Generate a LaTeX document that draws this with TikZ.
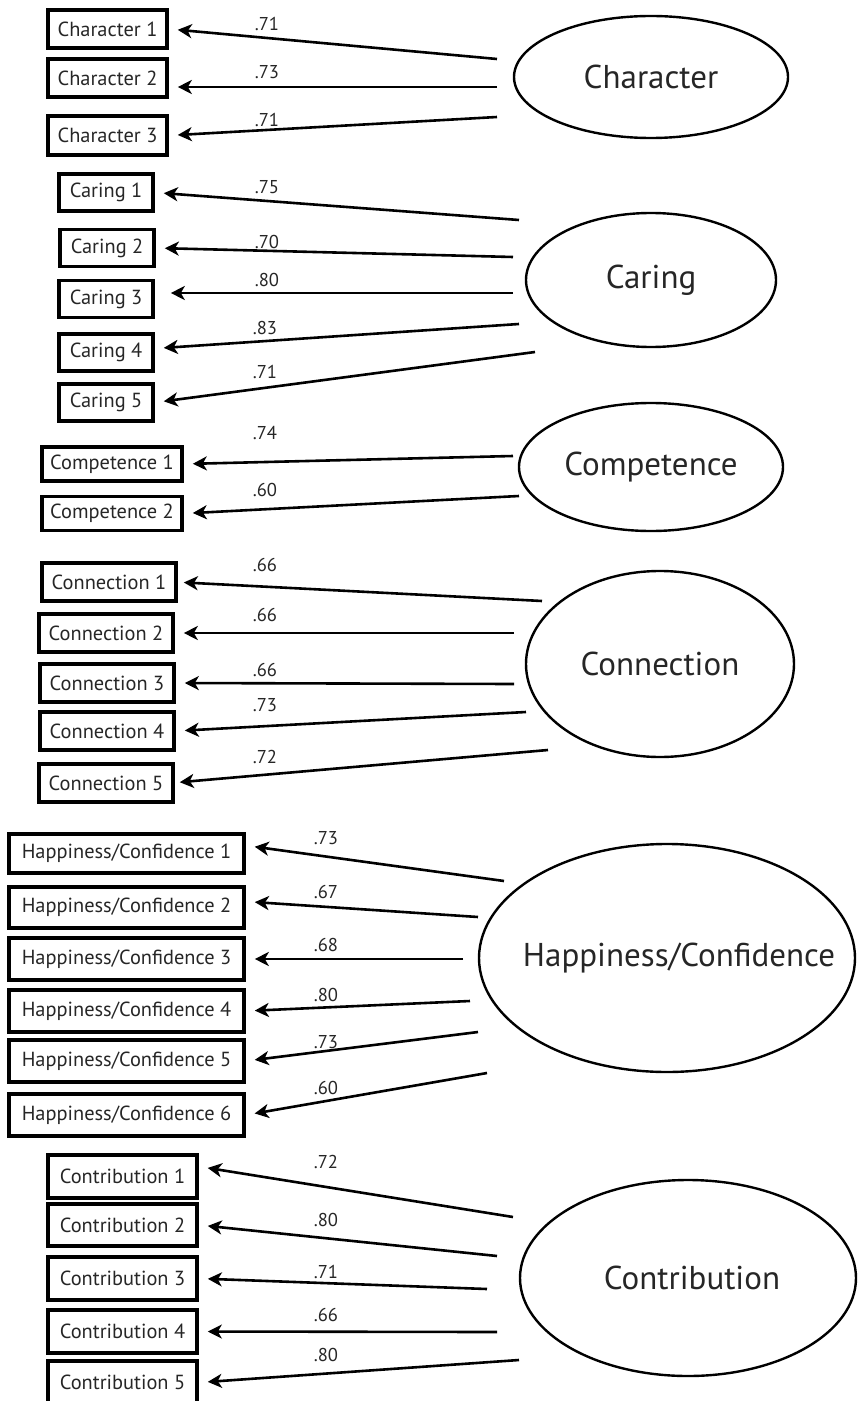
\documentclass[tikz,border=0pt]{standalone}
\usepackage{fontspec}
\setmainfont{PT Sans}
\usetikzlibrary{shapes.geometric,arrows.meta}

\begin{document}
\begin{tikzpicture}[x=0.5pt,y=-0.5pt,>={Stealth[length=7pt,width=7pt,inset=2pt]},
	item/.style={draw,rectangle,line width=1.8pt,inner sep=1pt,text=black!85,font=\fontsize{10.2}{12}\selectfont},
	latent/.style={draw,ellipse,line width=1.2pt,inner sep=0pt},
	title/.style={text=black!85,font=\fontsize{16.5}{20}\selectfont},
	coef/.style={inner sep=0pt,text=black!85,font=\fontsize{9.3}{11}\selectfont},
	link/.style={->,line width=1.3pt,shorten >=4.5pt}]
			\useasboundingbox (0,0) rectangle (857,1401);
			
			%% Latent factors
			\draw (651,77) node [latent,minimum width=137pt,minimum height=61pt,label={[title]center:Character}] (char) {};
			\draw (651,280) node [latent,minimum width=125pt,minimum height=67pt,label={[title]center:Caring}] (car) {};
			\draw (651,467) node [latent,minimum width=132pt,minimum height=64pt,label={[title]center:Competence}] (comp) {};
			\draw (660,664) node [latent,minimum width=134pt,minimum height=93pt,label={[title]center:Connection}] (conn) {};
			\draw (667,958) node [latent,minimum width=188pt,minimum height=114pt,label={[title,xshift=6pt]center:Happiness/Confidence}] (hc) {};
			\draw (688,1278) node [latent,minimum width=168pt,minimum height=98pt,label={[title,xshift=2pt]center:Contribution}] (cont) {};
			
			%% Indicators
			\draw (107.5,29) node [item,minimum width=59.5pt,minimum height=19pt] (char1) {Character 1};
			\draw (107.5,78) node [item,minimum width=59.5pt,minimum height=19pt] (char2) {Character 2};
			\draw (107.5,135.5) node [item,minimum width=59.5pt,minimum height=19.5pt] (char3) {Character 3};
			
			\draw (106,192.5) node [item,minimum width=47pt,minimum height=18.5pt] (car1) {Caring 1};
			\draw (107,248) node [item,minimum width=47pt,minimum height=18.5pt] (car2) {Caring 2};
			\draw (106,299) node [item,minimum width=47pt,minimum height=18.5pt] (car3) {Caring 3};
			\draw (106,352.5) node [item,minimum width=47pt,minimum height=18.5pt] (car4) {Caring 4};
			\draw (106,402.5) node [item,minimum width=47pt,minimum height=18.5pt] (car5) {Caring 5};
			
			\draw (112,464) node [item,minimum width=70pt,minimum height=17pt] (comp1) {Competence 1};
			\draw (112,513.5) node [item,minimum width=70pt,minimum height=17pt] (comp2) {Competence 2};
			
			\draw (109,582) node [item,minimum width=67pt,minimum height=19pt] (conn1) {Connection 1};
			\draw (106,633) node [item,minimum width=67pt,minimum height=19pt] (conn2) {Connection 2};
			\draw (107,683) node [item,minimum width=67pt,minimum height=19pt] (conn3) {Connection 3};
			\draw (107,731) node [item,minimum width=67pt,minimum height=19pt] (conn4) {Connection 4};
			\draw (106,783) node [item,minimum width=67pt,minimum height=19pt] (conn5) {Connection 5};
			
			\draw (126.5,853.5) node [item,minimum width=117.5pt,minimum height=19.5pt] (hc1) {Happiness/Confidence 1};
			\draw (126.5,907.5) node [item,minimum width=117.5pt,minimum height=20.5pt] (hc2) {Happiness/Confidence 2};
			\draw (126.5,959) node [item,minimum width=117.5pt,minimum height=21pt] (hc3) {Happiness/Confidence 3};
			\draw (126.5,1011) node [item,minimum width=117.5pt,minimum height=21pt] (hc4) {Happiness/Confidence 4};
			\draw (126.5,1061) node [item,minimum width=117.5pt,minimum height=21pt] (hc5) {Happiness/Confidence 5};
			\draw (126.5,1115) node [item,minimum width=117.5pt,minimum height=21pt] (hc6) {Happiness/Confidence 6};
			
			\draw (122.5,1176.5) node [item,minimum width=74.5pt,minimum height=21.5pt] (cont1) {Contribution 1};
			\draw (122.5,1225) node [item,minimum width=74.5pt,minimum height=21pt] (cont2) {Contribution 2};
			\draw (122.5,1278.5) node [item,minimum width=74.5pt,minimum height=21.5pt] (cont3) {Contribution 3};
			\draw (122.5,1331.5) node [item,minimum width=74.5pt,minimum height=21.5pt] (cont4) {Contribution 4};
			\draw (122.5,1382.5) node [item,minimum width=74.5pt,minimum height=21.5pt] (cont5) {Contribution 5};
			
			%% Loose ends of the loadings
			\coordinate (tchar1) at (497,59);
			\coordinate (tchar2) at (497,87);
			\coordinate (tchar3) at (497,117);
			\coordinate (tcar1) at (519,220);
			\coordinate (tcar2) at (513,257);
			\coordinate (tcar3) at (513,293);
			\coordinate (tcar4) at (519,324);
			\coordinate (tcar5) at (535,352);
			\coordinate (tcomp1) at (513,456);
			\coordinate (tcomp2) at (519,496);
			\coordinate (tconn1) at (542,601);
			\coordinate (tconn2) at (514,633);
			\coordinate (tconn3) at (514,684);
			\coordinate (tconn4) at (526,712);
			\coordinate (tconn5) at (548,750);
			\coordinate (thc1) at (504,881);
			\coordinate (thc2) at (478,917);
			\coordinate (thc3) at (463,959);
			\coordinate (thc4) at (470,1001);
			\coordinate (thc5) at (478,1032);
			\coordinate (thc6) at (487,1073);
			\coordinate (tcont1) at (513,1217);
			\coordinate (tcont2) at (497,1256);
			\coordinate (tcont3) at (487,1289);
			\coordinate (tcont4) at (497,1332);
			\coordinate (tcont5) at (519,1360);
			
			%% Loadings
			\path [link] (tchar1) edge (char1.east);
			\path [link] (tchar2) edge ([yshift=-4.5pt]char2.east);
			\path [link] (tchar3) edge (char3.east);
			\path [link] (tcar1) edge (car1.east);
			\path [link] (tcar2) edge (car2.east);
			\path [link] (tcar3) edge ([xshift=3.5pt,yshift=3pt]car3.east);
			\path [link] (tcar4) edge ([yshift=2pt]car4.east);
			\path [link] (tcar5) edge (car5.east);
			\path [link] (tcomp1) edge (comp1.east);
			\path [link] (tcomp2) edge (comp2.east);
			\path [link] (tconn1) edge ([xshift=-1.5pt]conn1.east);
			\path [link] (tconn2) edge (conn2.east);
			\path [link] (tconn3) edge (conn3.east);
			\path [link] (tconn4) edge (conn4.east);
			\path [link] (tconn5) edge ([xshift=-2pt]conn5.east);
			\path [link] (thc1) edge ([yshift=4pt]hc1.east);
			\path [link] (thc2) edge ([yshift=3pt]hc2.east);
			\path [link] (thc3) edge (hc3.east);
			\path [link] (thc4) edge (hc4.east);
			\path [link] (thc5) edge (hc5.east);
			\path [link] (thc6) edge (hc6.east);
			\path [link] (tcont1) edge ([yshift=5pt]cont1.east);
			\path [link] (tcont2) edge (cont2.east);
			\path [link] (tcont3) edge (cont3.east);
			\path [link] (tcont4) edge (cont4.east);
			\path [link] (tcont5) edge (cont5.east);
			
			%% Coefficients
			\draw (267,23.5) node [coef] (lchar1) {.71};
			\draw (267,72) node [coef] (lchar2) {.73};
			\draw (267,120) node [coef] (lchar3) {.71};
			\draw (267,187) node [coef] (lcar1) {.75};
			\draw (267,242) node [coef] (lcar2) {.70};
			\draw (267,280) node [coef] (lcar3) {.80};
			\draw (265,328) node [coef] (lcar4) {.83};
			\draw (265,372) node [coef] (lcar5) {.71};
			\draw (265,433) node [coef] (lcomp1) {.74};
			\draw (265,490) node [coef] (lcomp2) {.60};
			\draw (265,565) node [coef] (lconn1) {.66};
			\draw (265,615) node [coef] (lconn2) {.66};
			\draw (265,670) node [coef] (lconn3) {.66};
			\draw (265,705) node [coef] (lconn4) {.73};
			\draw (265,757) node [coef] (lconn5) {.72};
			\draw (326,838) node [coef] (lhc1) {.73};
			\draw (326,892) node [coef] (lhc2) {.67};
			\draw (326,945) node [coef] (lhc3) {.68};
			\draw (326,995) node [coef] (lhc4) {.80};
			\draw (326,1042) node [coef] (lhc5) {.73};
			\draw (326,1088) node [coef] (lhc6) {.60};
			\draw (326,1162) node [coef] (lcont1) {.72};
			\draw (326,1220) node [coef] (lcont2) {.80};
			\draw (326,1272) node [coef] (lcont3) {.71};
			\draw (326,1315) node [coef] (lcont4) {.66};
			\draw (326,1355) node [coef] (lcont5) {.80};
			
		\end{tikzpicture}
\end{document}
